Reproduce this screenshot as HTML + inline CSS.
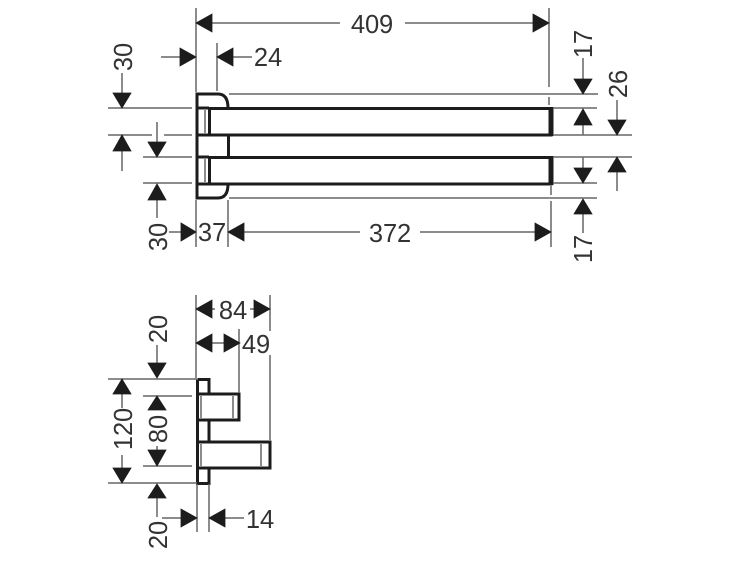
<!DOCTYPE html>
<html><head><meta charset="utf-8"><style>
html,body{margin:0;padding:0;background:#fff}
svg{display:block;filter:blur(.35px)}
text{font-family:"Liberation Sans",sans-serif;font-size:25.5px;fill:#333;text-anchor:middle;letter-spacing:-.1px}
.d{stroke:#666;stroke-width:1.5;fill:none}
.g{stroke:#8c8c8c;stroke-width:2;fill:none}
.o{stroke:#1c1c1c;stroke-width:3;fill:none}
.a{fill:#1c1c1c;stroke:#1c1c1c;stroke-width:.8;stroke-linejoin:miter}
</style></head><body>
<svg width="750" height="563" viewBox="0 0 750 563" xmlns="http://www.w3.org/2000/svg">
<!-- top view: object -->
<path class="o" d="M197 108V94H218Q228 94 228 108"/>
<path class="o" d="M197 108V184M197 184V198H218Q228 198 228 184"/>
<path class="o" d="M197 108H209M197 135H209M197 157H209M197 184H209"/>
<path class="g" d="M205 110V133M205 159V182"/>
<path class="o" d="M209.500 108V135M209.500 157V184"/>
<path class="o" d="M209 108.500H551V135H209M209 157.500H551V184H209"/>
<path d="M551 107V136M551 156V185" stroke="#1c1c1c" stroke-width="5" fill="none"/>
<path class="o" d="M228.500 135V157"/>
<!-- top view: dims -->
<path class="d" d="M196 8V92M217 43V91M549 8V87M549 97V105M196 200V247M228 200V247M551 186V195M551 201V247"/>
<path class="d" d="M212 23H340M405 23H534M161 57H180M233 57H252M108 108H192M108 135H152M164 135H192M143 157H192M143 183H192"/>
<path class="d" d="M229 94H598M553 108H597M553 135H632M553 157H632M553 183H597M229 198H597"/>
<path class="d" d="M122 73V93M122 151V171M157 122V142M157 200V218M169 232H182M244 232H360M420 232H536M583 58V79M583 125V135M617 100V120M583 157V168M617 172V191M583 214V233"/>
<g class="a">
<path d="M196 23L212 14V32ZM549 23L533 14V32ZM196 57L180 48V66ZM217 57L233 48V66Z"/>
<path d="M122 108L113 93H131ZM122 135L113 151H131ZM157 157L148 142H166ZM157 184L148 200H166Z"/>
<path d="M196 232L181 223V241ZM228 232L244 223V241ZM551 232L535 223V241Z"/>
<path d="M583 94L574 79H592ZM583 109L574 125H592ZM617 135L608 120H626ZM617 157L608 172H626ZM583 183L574 168H592ZM583 199L574 214H592Z"/>
</g>
<text x="372" y="33">409</text>
<text x="268" y="66">24</text>
<text x="212" y="241">37</text>
<text x="390" y="242">372</text>
<text transform="translate(132,57) rotate(-90)">30</text>
<text transform="translate(167,237) rotate(-90)">30</text>
<text transform="translate(592,44) rotate(-90)">17</text>
<text transform="translate(592,249) rotate(-90)">17</text>
<text transform="translate(627,84) rotate(-90)">26</text>
<!-- side view: object -->
<path class="o" d="M197.500 379.500H209V394M197.500 379.500V483.500H209V468M209 420V442"/>
<path class="o" d="M197 394H239V420H197M197 442H270V468H197"/>
<path class="g" d="M201 396V418M233 396V418M201 444V466M261 444V466"/>
<!-- side view: dims -->
<path class="d" d="M196 295V378M270 295V331M270 355V440M239 329V393M197 484V532M209 484V532"/>
<path class="d" d="M212 309H215M250 309H254M212 343H224M108 379H197M143 396H192M143 466H192M108 483H197M162 518H182M225 518H244"/>
<path class="d" d="M157 345V363M122 394V408M122 455V468M157 446V450M157 498V517"/>
<g class="a">
<path d="M196 309L212 300V318ZM270 309L254 300V318ZM196 343L212 334V352ZM240 343L224 334V352Z"/>
<path d="M157 378L148 363H166ZM122 379L113 394H131ZM157 396L148 410H166ZM122 483L113 468H131ZM157 466L148 450H166ZM157 484L148 498H166Z"/>
<path d="M197 518L181 509V527ZM209 518L225 509V527Z"/>
</g>
<text x="233" y="319">84</text>
<text x="256" y="353">49</text>
<text x="260" y="528">14</text>
<text transform="translate(167,329) rotate(-90)">20</text>
<text transform="translate(132,429) rotate(-90)">120</text>
<text transform="translate(167,429) rotate(-90)">80</text>
<text transform="translate(167,535) rotate(-90)">20</text>
</svg>
</body></html>
